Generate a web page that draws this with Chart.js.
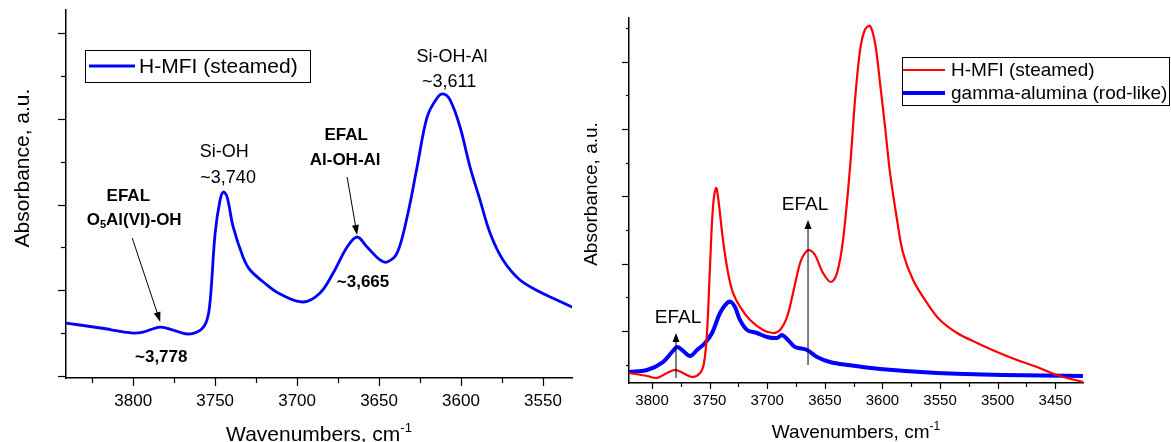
<!DOCTYPE html>
<html>
<head>
<meta charset="utf-8">
<script src="https://cdn.jsdelivr.net/npm/chart.js@4.4.1/dist/chart.umd.min.js"></script>
<style>
    body { margin: 0; background: #fff; width: 1171px; height: 442px; overflow: hidden; position: relative; }
    .panel { position: absolute; top: 0; height: 442px; }
    #leftPanel { left: 0; width: 575px; }
    #rightPanel { left: 575px; width: 596px; }
</style>
</head>
<body>
<div class="panel" id="leftPanel"><canvas id="leftChart"></canvas></div>
<div class="panel" id="rightPanel"><canvas id="rightChart"></canvas></div>
<script>
// left panel: H-MFI (steamed)
const leftWavenumbers = [3841, 3820, 3800, 3794, 3783.5, 3775.6, 3767, 3759, 3755, 3753, 3750, 3747, 3745, 3742.7,
    3739, 3733, 3728.7, 3718.3, 3710.4, 3696.3, 3686, 3678, 3669.5, 3663.4, 3657.3, 3649.4, 3645.1, 3639,
    3632.9, 3626.8, 3620.7, 3614.6, 3611, 3606.7, 3600.6, 3594.5, 3588.4, 3582.3, 3574.4, 3564, 3551.8, 3541.5, 3532.3];
const leftAbsorbance = [0.618, 0.560, 0.501, 0.513, 0.571, 0.536, 0.490, 0.536, 0.653, 0.886, 1.668, 2.052, 2.146, 2.087,
    1.738, 1.388, 1.236, 1.061, 0.956, 0.863, 0.968, 1.201, 1.504, 1.621, 1.504, 1.353, 1.329, 1.434,
    1.854, 2.437, 3.020, 3.242, 3.289, 3.219, 2.904, 2.437, 2.052, 1.668, 1.353, 1.120, 0.980, 0.886, 0.805];

// right panel: H-MFI (steamed) vs gamma-alumina (rod-like)
const mfiWavenumbers = [3820, 3804.3, 3795.7, 3787, 3780, 3773.1, 3765.3, 3758.3, 3754.9, 3752.3, 3749.7, 3747.1, 3744.4,
    3742.7, 3738.4, 3734, 3729.7, 3723.6, 3714.9, 3703.6, 3695, 3688.9, 3682.8, 3677.6, 3671.5, 3667.2, 3663.7,
    3658.5, 3651.6, 3644.6, 3639.4, 3634.2, 3628.1, 3623.8, 3619.4, 3615.3, 3610.8, 3606.4, 3602.1, 3597.7, 3593.4,
    3587.3, 3582.1, 3573.4, 3561.3, 3550, 3535.2, 3517.9, 3500.5, 3483.2, 3465.8, 3448.4, 3425.9];
const mfiAbsorbance = [-0.624, -0.669, -0.698, -0.624, -0.580, -0.624, -0.684, -0.624, -0.475, -0.030, 0.951, 1.843, 2.125,
    1.991, 1.352, 0.862, 0.565, 0.357, 0.163, 0.015, -0.030, 0.015, 0.208, 0.565, 1.010, 1.159, 1.204,
    1.129, 0.862, 0.728, 0.862, 1.352, 2.437, 3.432, 4.175, 4.473, 4.532, 4.279, 3.685, 3.031, 2.348,
    1.649, 1.159, 0.758, 0.416, 0.163, -0.030, -0.178, -0.312, -0.431, -0.535, -0.654, -0.758];
const aluminaWavenumbers = [3820, 3804.3, 3790.5, 3782.6, 3778.3, 3774, 3767, 3760.9, 3754, 3747.9, 3741, 3734.9, 3731.4,
    3728, 3723.6, 3717.5, 3708.9, 3700.2, 3691.5, 3687.2, 3682, 3675.9, 3665.5, 3656.8, 3645.5, 3630.7, 3602.1,
    3552.6, 3495.3, 3425.9];
const aluminaAbsorbance = [-0.609, -0.580, -0.461, -0.312, -0.238, -0.282, -0.371, -0.282, -0.178, -0.030, 0.267, 0.416, 0.431,
    0.357, 0.163, 0.015, -0.030, -0.089, -0.104, -0.059, -0.134, -0.238, -0.282, -0.386, -0.461, -0.505, -0.565,
    -0.624, -0.654, -0.669];

const leftTickLabels = [3800, 3750, 3700, 3650, 3600, 3550];
const rightTickLabels = [3800, 3750, 3700, 3650, 3600, 3550, 3500, 3450];

const FONT = '"Liberation Sans", Arial, sans-serif';

function toPoints(xs, ys) {
    return xs.map((x, i) => ({ x: x, y: ys[i] }));
}

// text with sub/superscript pieces, centred on (cx, cy)
function richText(ctx, parts, cx, cy, size, weight) {
    const fontFor = k => `${weight} ${k ? Math.round(size * 0.62) : size}px ${FONT}`;
    const widths = parts.map(([t, k]) => { ctx.font = fontFor(k); return ctx.measureText(t).width; });
    let x = cx - widths.reduce((a, b) => a + b, 0) / 2;
    ctx.textAlign = 'left';
    parts.forEach(([t, k], i) => {
        ctx.font = fontFor(k);
        const dy = k === 'sub' ? size * 0.3 : k === 'sup' ? -size * 0.42 : 0;
        ctx.fillText(t, x, cy + dy);
        x += widths[i];
    });
}

function arrow(ctx, x1, y1, x2, y2, head, half) {
    const a = Math.atan2(y2 - y1, x2 - x1);
    ctx.beginPath();
    ctx.moveTo(x1, y1);
    ctx.lineTo(x2 - head * 0.8 * Math.cos(a), y2 - head * 0.8 * Math.sin(a));
    ctx.stroke();
    ctx.beginPath();
    ctx.moveTo(x2, y2);
    ctx.lineTo(x2 - head * Math.cos(a) + half * Math.sin(a), y2 - head * Math.sin(a) - half * Math.cos(a));
    ctx.lineTo(x2 - head * Math.cos(a) - half * Math.sin(a), y2 - head * Math.sin(a) + half * Math.cos(a));
    ctx.closePath();
    ctx.fill();
}

// ticks, titles, legend and peak notes drawn on top of the chart
function makeDecor(cfg) {
    return {
        id: 'decor',
        afterDraw(chart) {
            const ctx = chart.ctx;
            const xs = chart.scales.x, ys = chart.scales.y;
            const area = chart.chartArea;
            ctx.save();
            ctx.strokeStyle = '#000';
            ctx.fillStyle = '#000';
            ctx.lineWidth = 1.2;

            // minor/major tick marks
            const t = cfg.ticks;
            for (let v = t.xFrom; v <= t.xTo; v += t.xStep) {
                const px = Math.round(xs.getPixelForValue(v)) + 0.5;
                const len = v % (t.xStep * 2) === 0 ? t.xMajor : t.xMinor;
                ctx.beginPath(); ctx.moveTo(px, area.bottom); ctx.lineTo(px, area.bottom + len); ctx.stroke();
            }
            for (let v = t.yFrom; v <= t.yTo + 1e-9; v += t.yStep) {
                const py = Math.round(ys.getPixelForValue(v)) + 0.5;
                const len = Math.abs(v - Math.round(v)) < 1e-6 ? t.yMajor : t.yMinor;
                ctx.beginPath(); ctx.moveTo(area.left - len, py); ctx.lineTo(area.left, py); ctx.stroke();
            }

            // axis titles
            ctx.textBaseline = 'alphabetic';
            const xt = cfg.xTitle;
            richText(ctx, [['Wavenumbers, cm'], ['-1', 'sup']], (area.left + area.right) / 2, xt.baseline, xt.size, 'normal');
            const yt = cfg.yTitle;
            ctx.save();
            ctx.translate(yt.baseline, yt.center);
            ctx.rotate(-Math.PI / 2);
            richText(ctx, [['Absorbance, a.u.']], 0, 0, yt.size, 'normal');
            ctx.restore();

            // legend
            const lg = cfg.legend;
            ctx.lineWidth = 1;
            ctx.strokeRect(lg.box[0] + 0.5, lg.box[1] + 0.5, lg.box[2], lg.box[3]);
            ctx.textBaseline = 'middle';
            ctx.textAlign = 'left';
            ctx.font = `${lg.size}px ${FONT}`;
            chart.data.datasets.forEach((ds, i) => {
                const y = lg.rows[i];
                ctx.strokeStyle = ds.borderColor;
                ctx.lineWidth = ds.borderWidth;
                ctx.beginPath(); ctx.moveTo(lg.lineX[0], y); ctx.lineTo(lg.lineX[1], y); ctx.stroke();
                ctx.fillStyle = '#000';
                ctx.fillText(ds.label, lg.textX, y + 1);
            });

            // peak notes and arrows, placed in data units
            ctx.strokeStyle = '#000';
            ctx.fillStyle = '#000';
            ctx.lineWidth = 1;
            cfg.notes.forEach(n => {
                richText(ctx, n.parts, xs.getPixelForValue(n.x), ys.getPixelForValue(n.y), n.size, n.bold ? 'bold' : 'normal');
            });
            cfg.arrows.forEach(a => {
                arrow(ctx, xs.getPixelForValue(a[0]), ys.getPixelForValue(a[1]),
                    xs.getPixelForValue(a[2]), ys.getPixelForValue(a[3]), a[4], a[5]);
            });
            ctx.restore();
        }
    };
}

function makeOptions(o) {
    return {
        responsive: true,
        maintainAspectRatio: false,
        animation: false,
        layout: { padding: o.padding },
        plugins: { legend: { display: false }, tooltip: { enabled: false } },
        elements: { point: { radius: 0 }, line: { tension: 0.35, borderJoinStyle: 'round', borderCapStyle: 'round' } },
        scales: {
            x: {
                type: 'linear',
                reverse: true,
                min: o.xMin,
                max: o.xMax,
                afterBuildTicks: axis => { axis.ticks = o.tickLabels.map(v => ({ value: v })); },
                afterFit: axis => { axis.height = o.xHeight; },
                grid: { display: false, drawTicks: true, tickLength: o.tickLen },
                border: { display: true, color: '#000', width: 1.5 },
                ticks: {
                    autoSkip: false, maxRotation: 0, padding: o.tickPad, color: '#000',
                    font: { family: FONT, size: o.tickSize },
                    callback: v => String(v)
                }
            },
            y: {
                min: o.yMin,
                max: o.yMax,
                afterFit: axis => { axis.width = o.yWidth; },
                grid: { display: false },
                border: { display: true, color: '#000', width: 1.5 },
                ticks: { display: false }
            }
        }
    };
}

new Chart(document.getElementById('leftChart'), {
    type: 'line',
    data: {
        datasets: [{
            label: 'H-MFI (steamed)',
            data: toPoints(leftWavenumbers, leftAbsorbance),
            borderColor: '#0000ff',
            borderWidth: 2.8
        }]
    },
    options: makeOptions({
        padding: { top: 10, right: 3, left: 0, bottom: 0 },
        xMin: 3532.3, xMax: 3841, yMin: -0.023, yMax: 4.268,
        xHeight: 64, yWidth: 66, tickLen: 8, tickPad: 5, tickSize: 17,
        tickLabels: leftTickLabels
    }),
    plugins: [makeDecor({
        ticks: { xFrom: 3550, xTo: 3825, xStep: 25, xMajor: 8, xMinor: 5, yFrom: 0, yTo: 4, yStep: 0.5, yMajor: 8, yMinor: 5 },
        xTitle: { baseline: 441, size: 21 },
        yTitle: { baseline: 29, center: 168, size: 21 },
        legend: { box: [85, 50, 225, 32], lineX: [89, 135], textX: 139, rows: [66], size: 21 },
        notes: [
            { parts: [['EFAL']], x: 3803.0, y: 2.099, size: 17, bold: true },
            { parts: [['O'], ['5', 'sub'], ['Al(VI)-OH']], x: 3799.4, y: 1.819, size: 17, bold: true },
            { parts: [['~3,778']], x: 3782.9, y: 0.222, size: 17, bold: true },
            { parts: [['Si-OH']], x: 3744.5, y: 2.612, size: 18 },
            { parts: [['~3,740']], x: 3742.1, y: 2.309, size: 18 },
            { parts: [['EFAL']], x: 3670.1, y: 2.810, size: 17, bold: true },
            { parts: [['Al-OH-Al']], x: 3670.7, y: 2.519, size: 17, bold: true },
            { parts: [['~3,665']], x: 3659.8, y: 1.096, size: 17, bold: true },
            { parts: [['Si-OH-Al']], x: 3605.5, y: 3.720, size: 18 },
            { parts: [['~3,611']], x: 3607.3, y: 3.429, size: 18 }
        ],
        arrows: [
            [3800.6, 1.609, 3783.5, 0.630, 10, 3.5],
            [3669.5, 2.321, 3663.4, 1.644, 10, 3.5]
        ]
    })]
});

new Chart(document.getElementById('rightChart'), {
    type: 'line',
    data: {
        datasets: [{
            label: 'H-MFI (steamed)',
            data: toPoints(mfiWavenumbers, mfiAbsorbance),
            borderColor: '#ff0000',
            borderWidth: 2.2
        }, {
            label: 'gamma-alumina (rod-like)',
            data: toPoints(aluminaWavenumbers, aluminaAbsorbance),
            borderColor: '#0000ff',
            borderWidth: 4
        }]
    },
    options: makeOptions({
        padding: { top: 18, right: 88, left: 0, bottom: 0 },
        xMin: 3425.9, xMax: 3820, yMin: -0.773, yMax: 4.651,
        xHeight: 59, yWidth: 54, tickLen: 6, tickPad: 3, tickSize: 15,
        tickLabels: rightTickLabels
    }),
    plugins: [makeDecor({
        ticks: { xFrom: 3450, xTo: 3800, xStep: 25, xMajor: 6, xMinor: 4, yFrom: -0.5, yTo: 4.5, yStep: 0.5, yMajor: 7, yMinor: 3 },
        xTitle: { baseline: 438, size: 19 },
        yTitle: { baseline: 22, center: 194, size: 19 },
        legend: { box: [327, 57, 267, 48], lineX: [328, 370], textX: 376, rows: [70, 93], size: 19 },
        notes: [
            { parts: [['EFAL']], x: 3777.4, y: 0.193, size: 19 },
            { parts: [['EFAL']], x: 3667.2, y: 1.872, size: 19 }
        ],
        arrows: [
            [3779.2, -0.698, 3779.2, -0.030, 9, 3.5],
            [3664.6, -0.505, 3664.6, 1.649, 9, 3.5]
        ]
    })]
});
</script>
</body>
</html>
